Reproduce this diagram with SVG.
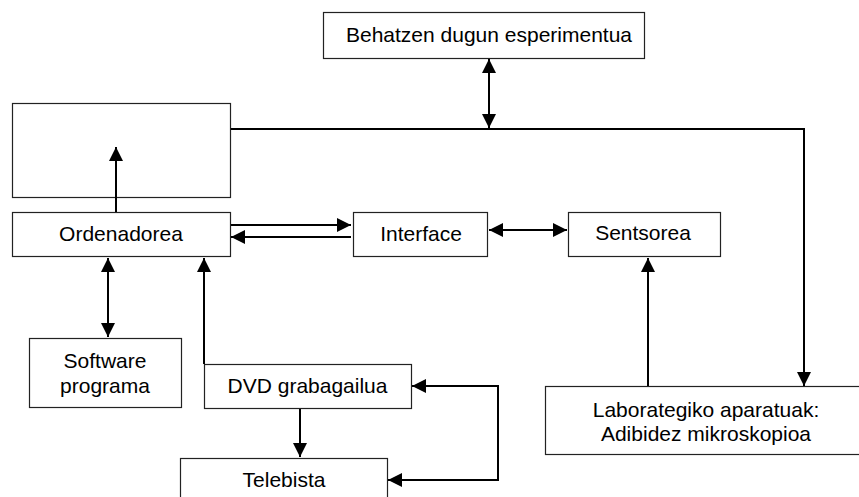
<svg xmlns="http://www.w3.org/2000/svg" width="859" height="497" viewBox="0 0 859 497">
<style>
.box{fill:#fff;stroke:#222;stroke-width:1.2}
.t{font-family:"Liberation Sans",Arial,sans-serif;font-size:21px;fill:#000;text-anchor:middle}
.c{fill:none;stroke:#000;stroke-width:2}
</style>
<defs>
<marker id="ah" viewBox="0 0 14 14" refX="14" refY="7" markerWidth="14" markerHeight="14" markerUnits="userSpaceOnUse" orient="auto-start-reverse">
<path d="M0,0 L14,7 L0,14 Z" fill="#000"/>
</marker>
</defs>
<rect width="859" height="497" fill="#fff"/>
<g id="experimentua"><rect class="box" x="323.5" y="12.5" width="321" height="46"/><text class="t" x="489" y="42">Behatzen dugun esperimentua</text></g>
<g id="hutsa"><rect class="box" x="12.5" y="103.5" width="218" height="94"/></g>
<g id="ordenadorea"><rect class="box" x="12.5" y="212.5" width="218" height="44"/><text class="t" x="121" y="241">Ordenadorea</text></g>
<g id="interface"><rect class="box" x="353.5" y="212.5" width="134" height="44"/><text class="t" x="421" y="241">Interface</text></g>
<g id="sentsorea"><rect class="box" x="568.5" y="212.5" width="152" height="44"/><text class="t" x="643" y="240">Sentsorea</text></g>
<g id="laborategiko"><rect class="box" x="545.5" y="386.5" width="322" height="68"/><text class="t" x="706" y="417">Laborategiko aparatuak:</text><text class="t" x="706" y="441">Adibidez mikroskopioa</text></g>
<g id="software"><rect class="box" x="29.5" y="338.5" width="152" height="69"/><text class="t" x="105" y="368">Software</text><text class="t" x="105" y="393">programa</text></g>
<g id="dvd"><rect class="box" x="204.5" y="364.5" width="207" height="44"/><text class="t" x="307.5" y="393">DVD grabagailua</text></g>
<g id="telebista"><rect class="box" x="180.5" y="458.5" width="207" height="50"/><text class="t" x="284" y="487">Telebista</text></g>
<g id="connectors">
<line class="c" x1="489" y1="59" x2="489" y2="128" marker-start="url(#ah)" marker-end="url(#ah)"/>
<polyline class="c" points="231,129 804,129 804,386" marker-end="url(#ah)"/>
<line class="c" x1="116" y1="212" x2="116" y2="147" marker-end="url(#ah)"/>
<line class="c" x1="231" y1="225" x2="351" y2="225" marker-end="url(#ah)"/>
<line class="c" x1="351" y1="237" x2="231" y2="237" marker-end="url(#ah)"/>
<line class="c" x1="489" y1="230" x2="567" y2="230" marker-start="url(#ah)" marker-end="url(#ah)"/>
<line class="c" x1="648" y1="386" x2="648" y2="258" marker-end="url(#ah)"/>
<line class="c" x1="108" y1="258" x2="108" y2="337" marker-start="url(#ah)" marker-end="url(#ah)"/>
<line class="c" x1="204" y1="364" x2="204" y2="258" marker-end="url(#ah)"/>
<line class="c" x1="300" y1="409" x2="300" y2="457" marker-end="url(#ah)"/>
<polyline class="c" points="412,386 498,386 498,480 388,480" marker-start="url(#ah)" marker-end="url(#ah)"/>
</g>
</svg>
